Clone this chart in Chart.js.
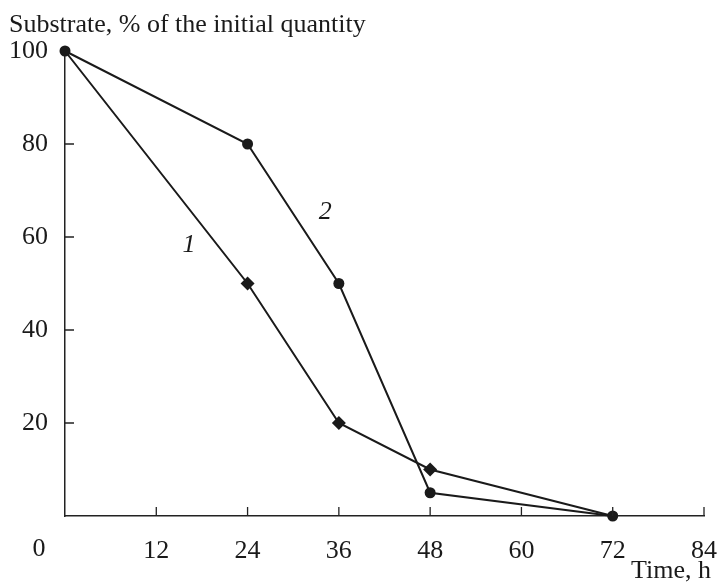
<!DOCTYPE html>
<html>
<head>
<meta charset="utf-8">
<script src="https://cdn.jsdelivr.net/npm/chart.js@4/dist/chart.umd.min.js"></script>
<style>
html,body{margin:0;padding:0;background:#fff;}
#wrap{width:717px;height:582px;position:relative;}
</style>
</head>
<body>
<div id="wrap"><canvas id="c" width="717" height="582"></canvas></div>
<script>
const timeHours = [0, 24, 36, 48, 72];
const series1 = [100, 50, 20, 10, 0];
const series2 = [100, 80, 50, 5, 0];
const xTicks = [0, 12, 24, 36, 48, 60, 72, 84];
const yTicks = [0, 20, 40, 60, 80, 100];
const yTitle = 'Substrate, % of the initial quantity';
const xTitle = 'Time, h';
const seriesLabels = ['1', '2'];

const FONT = '"Liberation Serif", "DejaVu Serif", serif';
const INK = '#1a1a1a';
const FS = 26;

const toXY = (xs, ys) => xs.map((x, i) => ({x: x, y: ys[i]}));

const decor = {
  id: 'decor',
  afterDraw(chart) {
    const ctx = chart.ctx;
    const xs = chart.scales.x, ys = chart.scales.y;
    const x0 = xs.getPixelForValue(0), y0 = ys.getPixelForValue(0);
    ctx.save();
    ctx.strokeStyle = '#222';
    ctx.lineWidth = 1.3;
    ctx.beginPath();
    xTicks.forEach(v => {
      if (v === 0) return;
      const px = xs.getPixelForValue(v);
      ctx.moveTo(px, y0); ctx.lineTo(px, y0 - 9);
    });
    yTicks.forEach(v => {
      if (v === 0 || v === 100) return;
      const py = ys.getPixelForValue(v);
      ctx.moveTo(x0, py); ctx.lineTo(x0 + 9, py);
    });
    ctx.stroke();
    ctx.fillStyle = INK;
    ctx.font = FS + 'px ' + FONT;
    ctx.textBaseline = 'middle';
    ctx.textAlign = 'left';
    ctx.fillText(yTitle, 9, 25);
    ctx.textAlign = 'center';
    ctx.fillText('0', 39, 549);
    ctx.fillText(xTitle, 671, 571);
    ctx.font = 'italic ' + FS + 'px ' + FONT;
    ctx.fillText(seriesLabels[0], xs.getPixelForValue(16.3), ys.getPixelForValue(58.3));
    ctx.fillText(seriesLabels[1], xs.getPixelForValue(34.2), ys.getPixelForValue(65.3));
    ctx.restore();
  }
};

new Chart(document.getElementById('c'), {
  type: 'line',
  data: {
    datasets: [
      {
        label: seriesLabels[0],
        data: toXY(timeHours, series1),
        order: 1,
        borderColor: INK, backgroundColor: INK,
        borderWidth: 2, pointStyle: 'rectRot',
        pointRadius: c => (series1[c.dataIndex] === series2[c.dataIndex] ? 0 : 7),
        pointBorderWidth: 0, tension: 0, clip: false
      },
      {
        label: seriesLabels[1],
        data: toXY(timeHours, series2),
        order: 0,
        borderColor: INK, backgroundColor: INK,
        borderWidth: 2, pointStyle: 'circle', pointRadius: 5.5,
        pointBorderWidth: 0, tension: 0, clip: false
      }
    ]
  },
  options: {
    responsive: false,
    animation: false,
    events: [],
    layout: {padding: {left: 0, right: 13, top: 51, bottom: 0}},
    plugins: {legend: {display: false}, title: {display: false}, tooltip: {enabled: false}},
    scales: {
      x: {
        type: 'linear', min: 0, max: 84,
        afterFit(s) { s.height = 66; s.paddingLeft = 0; s.paddingRight = 0; },
        afterBuildTicks(s) { s.ticks = xTicks.map(v => ({value: v})); },
        grid: {display: false, drawTicks: false},
        border: {display: true, color: '#222', width: 1.5},
        ticks: {
          color: INK, font: {family: FONT, size: FS}, padding: 20,
          maxRotation: 0, autoSkip: false,
          callback: v => (v === 0 ? '' : String(v))
        }
      },
      y: {
        type: 'linear', min: 0, max: 100,
        afterFit(s) { s.width = 65; s.paddingTop = 0; s.paddingBottom = 0; },
        afterBuildTicks(s) { s.ticks = yTicks.map(v => ({value: v})); },
        grid: {display: false, drawTicks: false},
        border: {display: true, color: '#222', width: 1.5},
        ticks: {
          color: INK, font: {family: FONT, size: FS}, padding: 17,
          callback: v => (v === 0 ? '' : String(v))
        }
      }
    }
  },
  plugins: [decor]
});
</script>
</body>
</html>
